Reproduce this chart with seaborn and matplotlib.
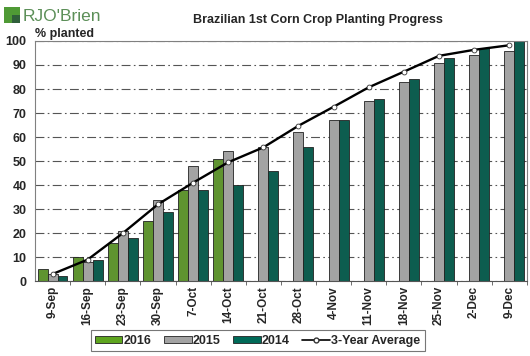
import numpy as np
import pandas as pd
import matplotlib.pyplot as plt
import seaborn as sns
from matplotlib.patches import Rectangle
from matplotlib.lines import Line2D

weeks = ['9-Sep', '16-Sep', '23-Sep', '30-Sep', '7-Oct', '14-Oct', '21-Oct',
         '28-Oct', '4-Nov', '11-Nov', '18-Nov', '25-Nov', '2-Dec', '9-Dec']
y2016 = [5, 10, 16, 25, 38, 51, np.nan, np.nan, np.nan, np.nan, np.nan, np.nan, np.nan, np.nan]
y2015 = [3, 8, 21, 34, 48, 54, 56, 62, 67, 75, 83, 91, 94, 96]
y2014 = [2, 9, 18, 29, 38, 40, 46, 56, 67, 76, 84, 93, 97, 100]
avg3 = [3, 9, 20, 32, 41, 49.5, 55.7, 64.7, 72.6, 80.7, 87.2, 93.8, 96.3, 98.2]

years = ['2016', '2015', '2014']
colors = {'2016': '#5ea51f', '2015': '#a3a3a3', '2014': '#006a58'}

df = pd.DataFrame({'week': weeks * 3,
                   'year': ['2016'] * 14 + ['2015'] * 14 + ['2014'] * 14,
                   'pct': y2016 + y2015 + y2014})

sns.set_style('white')
plt.rcParams['font.family'] = ['Liberation Sans', 'DejaVu Sans']

fig = plt.figure(figsize=(5.3, 3.56), dpi=100)
ax = fig.add_axes([0.066, 0.21, 0.928, 0.675])

sns.barplot(data=df, x='week', y='pct', hue='year', hue_order=years,
            palette=colors, order=weeks, width=0.85, edgecolor='#222222',
            linewidth=0.6, ax=ax, legend=False, zorder=2)

ax.plot(np.arange(len(weeks)), avg3, color='black', linewidth=1.7,
        marker='o', markersize=3.5, markerfacecolor='white',
        markeredgecolor='#333333', markeredgewidth=0.6, zorder=4)

ax.set_ylim(0, 100)
ax.set_xlim(-0.5, len(weeks) - 0.5)
ax.set_yticks(range(0, 101, 10))
ax.yaxis.grid(True, color='#555555', linestyle=(0, (8, 3, 1.5, 3)), linewidth=0.8)
ax.set_axisbelow(True)
ax.set_xlabel('')
ax.set_ylabel('')
ax.tick_params(axis='y', labelsize=9, length=0, pad=6)
ax.tick_params(axis='x', labelsize=8.5, length=3, rotation=90, bottom=True,
               direction='out', color='#555555')
ax.set_xticks(np.arange(len(weeks)) + 0.5, minor=True)
ax.tick_params(axis='x', which='minor', length=3, bottom=True, color='#555555')
ax.tick_params(axis='x', which='major', length=0)
for lab in ax.get_xticklabels() + ax.get_yticklabels():
    lab.set_fontweight('bold')
for side in ['left', 'right', 'top']:
    ax.spines[side].set_color('#808080')
ax.spines['bottom'].set_color('#555555')

fig.text(0.6, 0.945, 'Brazilian 1st Corn Crop Planting Progress', ha='center',
         va='center', fontsize=9, fontweight='bold')
fig.text(0.066, 0.905, '% planted', ha='left', va='center', fontsize=9,
         fontweight='bold')

# logo
fig.patches.append(Rectangle((0.008, 0.935), 0.03, 0.045, transform=fig.transFigure,
                             facecolor='#4f9a35', edgecolor='none'))
fig.patches.append(Rectangle((0.023, 0.935), 0.015, 0.022, transform=fig.transFigure,
                             facecolor='#2f5f3a', edgecolor='none'))
fig.text(0.042, 0.955, "RJO'Brien", ha='left', va='center', fontsize=12.5,
         color='#5c8f58')

handles = [Rectangle((0, 0), 1, 1, facecolor=colors[y], edgecolor='#222222',
                     linewidth=0.6) for y in years]
handles.append(Line2D([], [], color='black', linewidth=1.2, marker='o',
                      markersize=3.5, markerfacecolor='white',
                      markeredgecolor='#333333'))
leg = fig.legend(handles, years + ['3-Year Average'], loc='center',
                 bbox_to_anchor=(0.486, 0.043), ncol=4, frameon=True,
                 fancybox=False, edgecolor='#555555', fontsize=9,
                 handlelength=2.2, handleheight=0.5, handletextpad=0.1,
                 columnspacing=1.0, borderpad=0.35)
leg.get_frame().set_linewidth(0.8)
for t in leg.get_texts():
    t.set_fontweight('bold')

fig.savefig('out.png', dpi=100)
